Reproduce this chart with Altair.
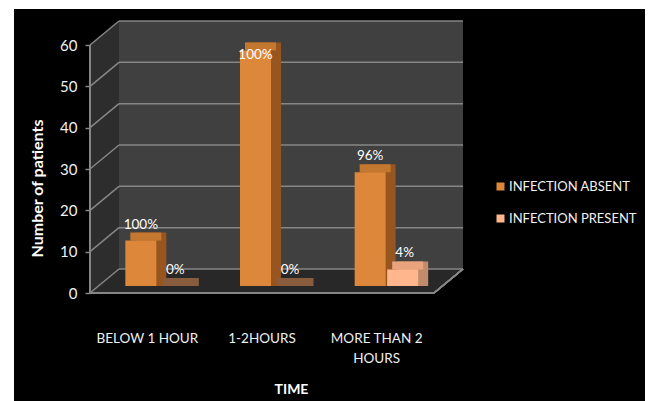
import altair as alt
import pandas as pd

# ---------------- data ----------------
categories = ["BELOW 1 HOUR", "1-2HOURS", "MORE THAN 2 HOURS"]
series_names = ["INFECTION ABSENT", "INFECTION PRESENT"]
absent_values = [11, 57, 27.5]
present_values = [0, 0, 4]
absent_labels = ["100%", "100%", "96%"]
present_labels = ["0%", "0%", "4%"]
y_ticks = [0, 10, 20, 30, 40, 50, 60]
y_max = 60

# ---------------- layout / style ----------------
CANVAS_W, CANVAS_H = 649, 401
PAD_L, PAD_T = 119, 21
W, H = 344, 248
DX, DY = 29, 24            # depth of the 3-D box (front plane vs back wall)
BAR_DY = 17                # bars' front plane below back wall
BAR_W = 31
SERIES_DX = [-35.5, -3]    # bar centre offset from band centre (px)
FACE_DX, FACE_DY = 10, 8   # extrusion of bar side/top faces
LABEL_CAP = 52

BG = "#000000"
WALL_BACK = "#404040"
WALL_SIDE = "#2d2d2d"
FLOOR = "#282828"
GRID = "#868686"
FRONT = ["#DD873A", "#FFB68C"]
SIDE = ["#97551F", "#C28C6C"]
TOP = ["#C4772F", "#E9A37D"]
SLAB = "#8A5C3E"
FONT = "Lato"

df = pd.DataFrame({
    "category": categories * 2,
    "series": [series_names[0]] * 3 + [series_names[1]] * 3,
    "value": absent_values + present_values,
    "label": absent_labels + present_labels,
})
ticks_df = pd.DataFrame({"tick": y_ticks})

# ---------------- decor (pixel scales) ----------------
px_x = alt.Scale(domain=[0, W], nice=False, zero=False)
px_y = alt.Scale(domain=[0, H], reverse=True, nice=False, zero=False)


def px_rect(x0, x1, y0, y1, color):
    d = pd.DataFrame({"x": [x0], "x2": [x1], "y": [y0], "y2": [y1]})
    return alt.Chart(d).mark_rect(color=color).encode(
        x=alt.X("x:Q", scale=px_x, axis=None), x2="x2:Q",
        y=alt.Y("y:Q", scale=px_y, axis=None), y2="y2:Q")


black = px_rect(14 - PAD_L, 645 - PAD_L, 9 - PAD_T, CANVAS_H - PAD_T, BG)
back_wall = px_rect(0, W, 0, H, WALL_BACK)
left_wall = alt.Chart(pd.DataFrame({"x": [-DX, 0], "top": [DY, 0], "bot": [H + DY, H]})).mark_area(
    color=WALL_SIDE).encode(x=alt.X("x:Q", scale=px_x, axis=None),
                            y=alt.Y("top:Q", scale=px_y, axis=None), y2="bot:Q")
floor = alt.Chart(pd.DataFrame({"x": [-DX, 0, W - DX, W],
                                "top": [H + DY, H, H, H],
                                "bot": [H + DY, H + DY, H + DY, H]})).mark_area(
    color=FLOOR).encode(x=alt.X("x:Q", scale=px_x, axis=None),
                        y=alt.Y("top:Q", scale=px_y, axis=None), y2="bot:Q")
decor = alt.layer(black, back_wall, left_wall, floor)

# ---------------- data layers ----------------
y_scale = alt.Scale(domain=[0, y_max], nice=False, zero=True)
x_scale = alt.Scale(domain=categories, paddingInner=0, paddingOuter=0)

label_expr = (f"datum.label == '{categories[2]}' ? ['MORE THAN 2', 'HOURS'] : datum.label")
x_axis = alt.Axis(title="TIME", labelOffset=-DX, labelPadding=62, domain=False, ticks=False,
                  labelAngle=0, labelColor="#f0f0f0", labelFontSize=13.5, labelFont=FONT,
                  labelExpr=label_expr, labelLineHeight=20, titleColor="white",
                  titleFontSize=14, titleFontWeight="bold", titleFont=FONT, titlePadding=18,
                  zindex=1, orient="bottom")
y_axis = alt.Axis(title="Number of patients", values=y_ticks, offset=DX, tickOffset=DY,
                  domain=False, grid=False, tickColor=GRID, tickSize=5, tickWidth=1.5,
                  labelPadding=8, labelColor="#f0f0f0", labelFontSize=15, labelFont=FONT,
                  titleColor="white", titleFontSize=16, titleFontWeight="bold", titleFont=FONT,
                  titleX=-53, titleY=167, titleBaseline="middle", zindex=1, orient="left")

X = alt.X("category:N", sort=categories, scale=x_scale, axis=x_axis)


def Yq(field):
    return alt.Y(field, scale=y_scale, axis=y_axis)


grid = alt.Chart(ticks_df).mark_rule(color=GRID, strokeWidth=1.5).encode(
    y=Yq("tick:Q"), x=alt.value(0), x2=alt.value(W))
diag = alt.Chart(ticks_df).mark_rule(color=GRID, strokeWidth=1.5, yOffset=DY, y2Offset=0).encode(
    y=Yq("tick:Q"), y2="tick:Q", x=alt.value(-DX), x2=alt.value(0))
front_axis = alt.Chart(ticks_df).mark_rule(color=GRID, strokeWidth=1.5, yOffset=DY, y2Offset=DY).encode(
    y=alt.YDatum(0, scale=y_scale, axis=y_axis), y2=alt.Y2Datum(y_max), x=alt.value(-DX))
floor_edge = alt.Chart(ticks_df).mark_rule(color=GRID, strokeWidth=1.5, yOffset=DY).encode(
    y=alt.YDatum(0, scale=y_scale, axis=y_axis), x=alt.value(-DX), x2=alt.value(W - DX))
floor_diag = alt.Chart(ticks_df).mark_rule(color=GRID, strokeWidth=1.5, yOffset=DY, y2Offset=0).encode(
    y=alt.YDatum(0, scale=y_scale, axis=y_axis), y2=alt.Y2Datum(0),
    x=alt.value(W - DX), x2=alt.value(W))

layers = [grid, diag, front_axis, floor_edge, floor_diag]

color_scale = alt.Scale(domain=series_names, range=FRONT)
legend = alt.Legend(title=None, orient="none", legendX=375, legendY=159, symbolType="square",
                    symbolSize=64, symbolStrokeWidth=0, labelColor="#f0f0f0", labelFontSize=13,
                    labelFont=FONT, labelOffset=2, rowPadding=18, padding=0, zindex=1)

for i, s in enumerate(series_names):
    base = alt.Chart(df).transform_filter(alt.datum.series == s)
    side = base.mark_bar(width=BAR_W, xOffset=SERIES_DX[i] + FACE_DX,
                         yOffset=BAR_DY - FACE_DY, y2Offset=BAR_DY).encode(
        x=X, y=Yq("value:Q"), y2=alt.Y2Datum(0),
        color=alt.condition(alt.datum.value == 0, alt.value(SLAB), alt.value(SIDE[i])))
    top = base.mark_bar(width=BAR_W, xOffset=SERIES_DX[i] + FACE_DX / 2,
                        yOffset=BAR_DY - FACE_DY, y2Offset=BAR_DY).encode(
        x=X, y=Yq("value:Q"), y2="value:Q",
        color=alt.condition(alt.datum.value == 0, alt.value(SLAB), alt.value(TOP[i])))
    layers += [side, top]

for i, s in enumerate(series_names):
    base = alt.Chart(df).transform_filter(alt.datum.series == s)
    front = base.transform_filter(alt.datum.value > 0).mark_bar(
        width=BAR_W, xOffset=SERIES_DX[i], yOffset=BAR_DY, y2Offset=BAR_DY).encode(
        x=X, y=Yq("value:Q"), y2=alt.Y2Datum(0),
        color=alt.Color("series:N", scale=color_scale, legend=legend))
    layers.append(front)

for i, s in enumerate(series_names):
    base = alt.Chart(df).transform_filter(alt.datum.series == s)
    txt = base.transform_calculate(label_y=f"min(datum.value, {LABEL_CAP})").mark_text(
        dx=SERIES_DX[i] + (2 if i == 1 else 0), dy=BAR_DY - 12, baseline="alphabetic",
        align="center", color="white", fontSize=13.5, font=FONT).encode(
        x=X, y=Yq("label_y:Q"), text="label:N")
    layers.append(txt)

data_layer = alt.layer(*layers)

chart = alt.layer(decor, data_layer).resolve_scale(x="independent", y="independent").properties(
    width=W, height=H,
    autosize=alt.AutoSizeParams(type="none"),
    padding={"left": PAD_L, "top": PAD_T, "right": CANVAS_W - PAD_L - W,
             "bottom": CANVAS_H - PAD_T - H},
    background="white",
).configure_view(stroke=None).configure(font=FONT)

chart.save("out.html", embed_options={"renderer": "svg", "actions": False})
